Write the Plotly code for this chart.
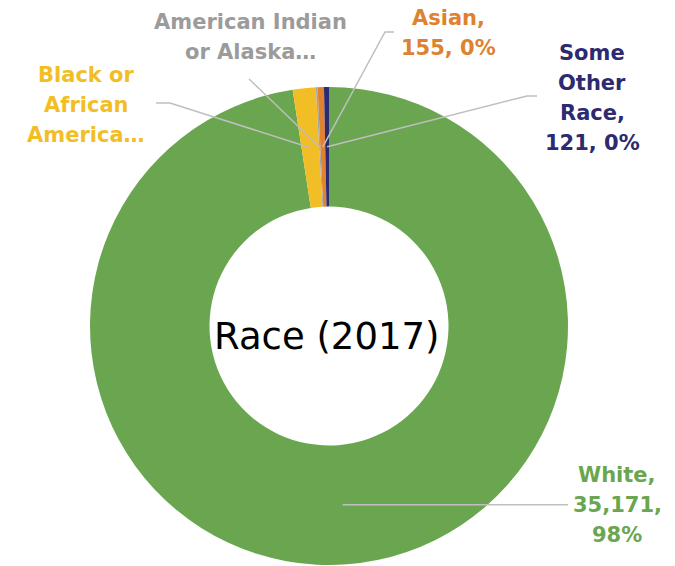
import math
import plotly.graph_objects as go

# ---- data ----
categories = ["White", "Black or African American", "American Indian or Alaska Native", "Asian", "Some Other Race"]
values = [35171, 560, 40, 155, 121]
label_lines = [["White,", "35,171,", "98%"], ["Black or", "African", "America…"], ["American Indian", "or Alaska…"],
               ["Asian,", "155, 0%"], ["Some", "Other", "Race,", "121, 0%"]]
slice_colors = ["#6AA650", "#F2BE26", "#A5A5A5", "#E0822E", "#2C2A70"]
text_colors = ["#6AA650", "#F2BE26", "#9B9B9B", "#DE8230", "#2C2A70"]
title_text = "Race (2017)"

W, H = 675, 566
# pie geometry (pixels)
cx, cy, R = 329, 326, 239
hole = 0.50

def px(x):
    return x / W

def py(y):
    return 1 - y / H

fig = go.Figure(go.Pie(
    labels=categories, values=values, sort=False, direction="clockwise", rotation=0,
    hole=hole, marker=dict(colors=slice_colors, line=dict(width=0)),
    textinfo="none", hoverinfo="label+value+percent", showlegend=False,
    domain=dict(x=[px(cx - R), px(cx + R)], y=[py(cy + R), py(cy - R)]),
))

# label positions (pixels): text block center, leader-line path from label side
label_pos = [(617, 505), (86, 105), (250, 37), (448, 33), (592, 98)]
line_gap = 30
leader_outer = [
    [(568, None)],             # White: horizontal to right
    [(156, 103), (170, 103)],  # Black
    [(249, 79)],               # American Indian
    [(394, 32), (385, 32)],    # Asian
    [(537, 96), (527, 96)],    # Some Other
]

total = sum(values)
cum = 0
r_mid = R * (1 + hole) / 2
shapes = []
annotations = []
for i, v in enumerate(values):
    mid = (cum + v / 2) / total * 2 * math.pi
    cum += v
    ax = cx + r_mid * math.sin(mid)
    ay = cy - r_mid * math.cos(mid)
    pts = [(x, ay if y is None else y) for (x, y) in leader_outer[i]]
    pts.append((ax, ay))
    path = "M " + " L ".join(f"{px(x):.5f},{py(y):.5f}" for x, y in pts)
    shapes.append(dict(type="path", path=path, xref="paper", yref="paper",
                       line=dict(color="#BFBFBF", width=1.5)))
    lx, ly = label_pos[i]
    n = len(label_lines[i])
    for k, t in enumerate(label_lines[i]):
        yy = ly + (k - (n - 1) / 2) * line_gap
        annotations.append(dict(x=px(lx), y=py(yy), xref="paper", yref="paper", text=f"<b>{t}</b>",
                                showarrow=False, xanchor="center", yanchor="middle", align="center",
                                font=dict(family="DejaVu Sans", size=21, color=text_colors[i])))

annotations.append(dict(x=px(326), y=py(336), xref="paper", yref="paper", text=title_text, showarrow=False,
                        xanchor="center", yanchor="middle",
                        font=dict(family="DejaVu Sans", size=37, color="#000000")))

fig.update_layout(width=W, height=H, margin=dict(l=0, r=0, t=0, b=0),
                  paper_bgcolor="white", plot_bgcolor="white",
                  shapes=shapes, annotations=annotations)

fig.write_html("out.html", config={"displayModeBar": False},
               post_script="document.body.style.margin='0';")
